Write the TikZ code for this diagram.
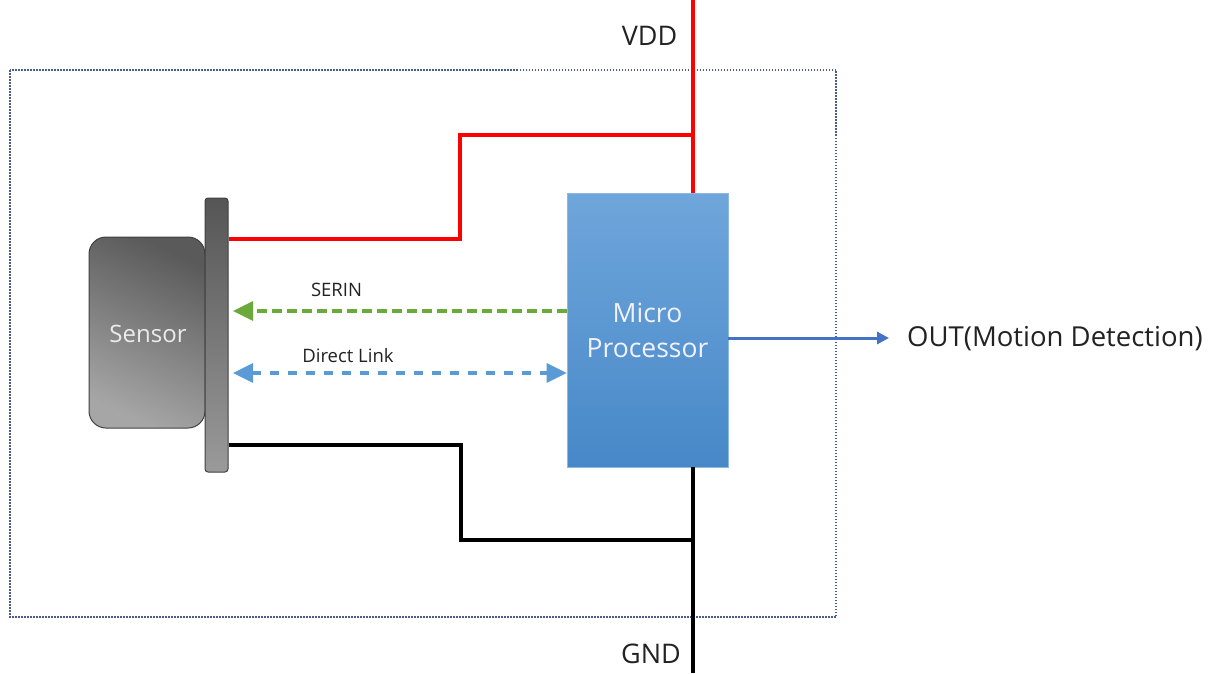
\documentclass[tikz,border=0pt]{standalone}
\usepackage{fontspec}
\setmainfont{Open Sans}
\usetikzlibrary{arrows.meta}
\definecolor{vddred}{HTML}{FF0000}
\definecolor{serin}{HTML}{6AAA3A}
\definecolor{dlink}{HTML}{5B9BD5}
\definecolor{outblue}{HTML}{4472C4}
\definecolor{mptop}{HTML}{6FA6DB}
\definecolor{mpbot}{HTML}{4788C8}
\definecolor{boxline}{HTML}{4A5E8A}
\definecolor{sentop}{HTML}{5A5A5A}
\definecolor{senbot}{HTML}{A6A6A6}
\definecolor{pltop}{HTML}{555555}
\definecolor{plbot}{HTML}{9A9A9A}
\definecolor{textgray}{HTML}{222222}
\tikzset{bigtip/.tip={Triangle[length=20pt,width=19pt]}}
\begin{document}
\begin{tikzpicture}[x=1pt,y=-1pt,
  wire/.style={line width=4pt},
  lbl/.style={inner sep=0pt, anchor=center, text=textgray}]
\useasboundingbox (0,0) rectangle (1223,673);
% outer dotted box
\draw[boxline, line width=1.1pt, dash pattern=on 1.5pt off 1.5pt] (10,70) rectangle (836,617);
% sensor body and plate
\node[draw=black!75, line width=1pt, rounded corners=17pt, top color=sentop, bottom color=senbot, shading angle=-25,
      minimum width=116pt, minimum height=191pt, inner sep=0pt] (sensor) at (147,332.5) {};
\node[text=white!92!black, font=\fontsize{24}{26}\selectfont] (sensorlbl) at (148,334) {Sensor};
\node[draw=black!75, line width=1pt, rounded corners=3pt, top color=pltop, bottom color=plbot,
      minimum width=23pt, minimum height=274pt, inner sep=0pt] (plate) at (216.5,335) {};
% micro processor
\node[draw=mptop!80!white, line width=0.6pt, top color=mptop, bottom color=mpbot,
      minimum width=161pt, minimum height=274pt, inner sep=0pt, text=white!95!blue, align=center,
      font=\fontsize{26.5}{35}\selectfont] (mp) at (647.5,330) {Micro\\Processor};
% coordinates
\coordinate (vddtop) at (693,0);
\coordinate (gndbot) at (693,673);
\coordinate (r1) at (460,239);
\coordinate (r2) at (460,135);
\coordinate (r3) at (693,135);
\coordinate (b1) at (461,445);
\coordinate (b2) at (461,540);
\coordinate (b3) at (693,540);
\coordinate (outend) at (889,338);
% power wires
\draw[wire, vddred] (vddtop) -- (693,193);
\draw[wire, vddred, line join=miter] (plate.east |- r1) -- (r1) -- (r2) -- (r3);
\draw[wire, black] (693,467) -- (gndbot);
\draw[wire, black, line join=miter] (plate.east |- b1) -- (b1) -- (b2) -- (b3);
% signals
\draw[serin, line width=3.2pt, dash pattern=on 10pt off 5pt, -bigtip] (mp.west |- 0,311) -- (233,311);
\draw[dlink, line width=3.2pt, dash pattern=on 9pt off 9pt, bigtip-bigtip] (233,373) -- (mp.west |- 0,373);
\draw[line width=3pt, outblue, -{Triangle[length=12pt,width=12pt]}] (mp.east |- 0,338) -- (outend);
% labels
\node[lbl, font=\fontsize{18.5}{20}\selectfont] (serinlbl) at (336.5,290) {SERIN};
\node[lbl, font=\fontsize{18.5}{20}\selectfont] (dllbl) at (348,356) {Direct Link};
\node[lbl, font=\fontsize{27}{29}\selectfont] (vddlbl) at (649.5,36) {VDD};
\node[lbl, font=\fontsize{27}{29}\selectfont] (gndlbl) at (651,654) {GND};
\node[lbl, anchor=west, font=\fontsize{27.5}{30}\selectfont] (outlbl) at (907,339) {OUT(Motion Detection)};
\end{tikzpicture}
\end{document}
